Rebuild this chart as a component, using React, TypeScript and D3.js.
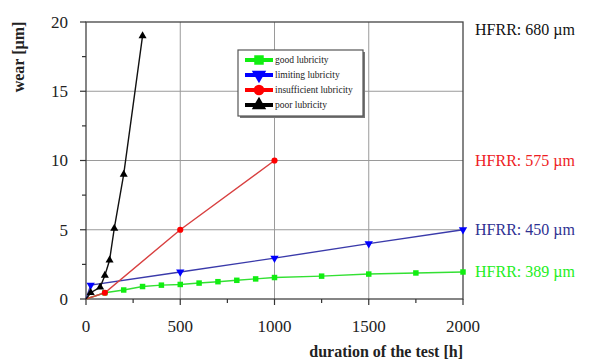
import { useEffect, useRef } from 'react';
import * as d3 from 'd3';

type Pt = [number, number];

const goodLubricity: Pt[] = [
  [0, 0], [100, 0.45], [200, 0.65], [300, 0.9], [400, 1.0], [500, 1.05], [600, 1.15],
  [700, 1.25], [800, 1.35], [900, 1.45], [1000, 1.55], [1250, 1.65], [1500, 1.8],
  [1750, 1.88], [2000, 1.95],
];
const limitingLubricity: Pt[] = [[0, 0], [25, 1.0], [500, 1.95], [1000, 2.95], [1500, 4.0], [2000, 5.0]];
const insufficientLubricity: Pt[] = [[0, 0], [100, 0.45], [500, 5.0], [1000, 10.0]];
const poorLubricity: Pt[] = [[0, 0], [25, 0.45], [75, 0.85], [100, 1.7], [125, 2.8], [150, 5.1], [200, 9.0], [300, 19.0]];

const xTicks = [0, 500, 1000, 1500, 2000];
const yTicks = [0, 5, 10, 15, 20];
const xMinor = [250, 750, 1250, 1750];
const yMinor = [2.5, 7.5, 12.5, 17.5];

const hfrrLabels = [
  { text: 'HFRR: 680 µm', color: '#111111', y: 19.5 },
  { text: 'HFRR: 575 µm', color: '#ee1c24', y: 10 },
  { text: 'HFRR: 450 µm', color: '#2e3192', y: 5 },
  { text: 'HFRR: 389 µm', color: '#22ee22', y: 2 },
];

const series = [
  { name: 'good lubricity', data: goodLubricity, line: '#33e033', fill: '#11ee11', symbol: d3.symbolSquare, size: 30 },
  { name: 'limiting lubricity', data: limitingLubricity, line: '#3a3aaa', fill: '#0000ff', symbol: 'down', size: 30 },
  { name: 'insufficient lubricity', data: insufficientLubricity, line: '#d84040', fill: '#ff0000', symbol: d3.symbolCircle, size: 30 },
  { name: 'poor lubricity', data: poorLubricity, line: '#111111', fill: '#000000', symbol: d3.symbolTriangle, size: 28 },
];

const FONT = '"Liberation Serif", "DejaVu Serif", serif';

export default function App() {
  const ref = useRef<SVGSVGElement>(null);

  useEffect(() => {
    document.body.style.margin = '0';
    if (!ref.current) return;
    const svg = d3.select(ref.current);
    svg.selectAll('*').remove();

    const left = 86, right = 463, top = 22, bottom = 299;
    const x = d3.scaleLinear().domain([0, 2000]).range([left, right]);
    const y = d3.scaleLinear().domain([0, 20]).range([bottom, top]);

    svg.append('rect').attr('width', 595).attr('height', 363).attr('fill', '#fff');

    // grid
    const g = svg.append('g');
    g.selectAll('.gx').data(xTicks.slice(1, -1)).join('line')
      .attr('x1', d => x(d)).attr('x2', d => x(d)).attr('y1', top).attr('y2', bottom)
      .attr('stroke', '#9a9a9a').attr('stroke-width', 1);
    g.selectAll('.gy').data(yTicks.slice(1, -1)).join('line')
      .attr('x1', left).attr('x2', right).attr('y1', d => y(d)).attr('y2', d => y(d))
      .attr('stroke', '#9a9a9a').attr('stroke-width', 1);

    // frame
    svg.append('rect').attr('x', left).attr('y', top).attr('width', right - left).attr('height', bottom - top)
      .attr('fill', 'none').attr('stroke', '#444').attr('stroke-width', 1.3);

    // ticks
    const ax = svg.append('g').attr('stroke', '#333').attr('stroke-width', 1.2);
    ax.selectAll('.tx').data(xTicks).join('line')
      .attr('x1', d => x(d)).attr('x2', d => x(d)).attr('y1', bottom).attr('y2', bottom + 6);
    ax.selectAll('.mx').data(xMinor).join('line')
      .attr('x1', d => x(d)).attr('x2', d => x(d)).attr('y1', bottom).attr('y2', bottom + 4);
    ax.selectAll('.ty').data(yTicks).join('line')
      .attr('x1', left - 6).attr('x2', left).attr('y1', d => y(d)).attr('y2', d => y(d));
    ax.selectAll('.my').data(yMinor).join('line')
      .attr('x1', left - 4).attr('x2', left).attr('y1', d => y(d)).attr('y2', d => y(d));

    svg.selectAll('.lx').data(xTicks).join('text')
      .attr('x', d => x(d)).attr('y', 332).attr('text-anchor', 'middle')
      .attr('font-family', FONT).attr('font-size', 17).attr('fill', '#222').text(d => d);
    svg.selectAll('.ly').data(yTicks).join('text')
      .attr('x', 68).attr('y', d => y(d)).attr('dy', '0.35em').attr('text-anchor', 'end')
      .attr('font-family', FONT).attr('font-size', 17).attr('fill', '#222').text(d => d);

    svg.append('text').attr('x', right).attr('y', 357).attr('text-anchor', 'end')
      .attr('font-family', FONT).attr('font-size', 16).attr('font-weight', 'bold').attr('fill', '#222')
      .text('duration of the test [h]');
    svg.append('text').attr('transform', 'translate(24,57) rotate(-90)').attr('text-anchor', 'middle')
      .attr('font-family', FONT).attr('font-size', 16).attr('font-weight', 'bold').attr('fill', '#222')
      .text('wear [µm]');

    const sym = (s: any, size: number) =>
      s === 'down'
        ? d3.symbol(d3.symbolTriangle, size)() as string
        : d3.symbol(s, size)() as string;

    const line = d3.line<Pt>().x(d => x(d[0])).y(d => y(d[1]));
    series.forEach(s => {
      svg.append('path').attr('d', line(s.data)).attr('fill', 'none')
        .attr('stroke', s.line).attr('stroke-width', 1.4);
      svg.selectAll(null).data(s.data.slice(1)).join('path')
        .attr('d', sym(s.symbol, s.size))
        .attr('transform', d => `translate(${x(d[0])},${y(d[1])})${s.symbol === 'down' ? ' rotate(180)' : ''}`)
        .attr('fill', s.fill);
    });

    // HFRR labels
    svg.selectAll('.hf').data(hfrrLabels).join('text')
      .attr('x', 475).attr('y', d => y(d.y)).attr('dy', '0.35em')
      .attr('font-family', FONT).attr('font-size', 16).attr('fill', d => d.color).text(d => d.text);

    // legend
    const lg = svg.append('g').attr('transform', 'translate(238,50)');
    lg.append('rect').attr('x', 2).attr('y', 2).attr('width', 125).attr('height', 66).attr('fill', '#777');
    lg.append('rect').attr('width', 125).attr('height', 66).attr('fill', '#fff').attr('stroke', '#555').attr('stroke-width', 1.2);
    series.forEach((s, i) => {
      const ry = 10 + i * 15;
      lg.append('line').attr('x1', 7).attr('x2', 35).attr('y1', ry).attr('y2', ry)
        .attr('stroke', s.fill).attr('stroke-width', 4);
      lg.append('path').attr('d', sym(s.symbol, 90))
        .attr('transform', `translate(21,${ry})${s.symbol === 'down' ? ' rotate(180)' : ''}`)
        .attr('fill', s.fill);
      lg.append('text').attr('x', 37).attr('y', ry).attr('dy', '0.35em')
        .attr('font-family', FONT).attr('font-size', 9.5).attr('fill', '#222').text(s.name);
    });
  }, []);

  return <svg ref={ref} width={595} height={363} style={{ display: 'block' }} />;
}
